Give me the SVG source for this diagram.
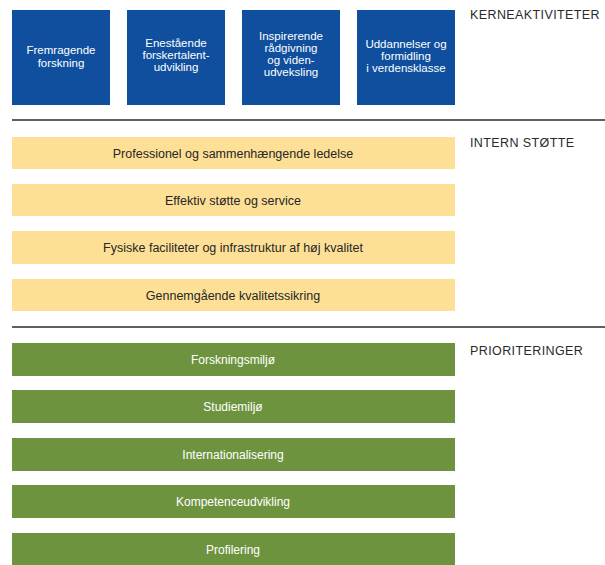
<svg xmlns="http://www.w3.org/2000/svg" width="605" height="565" viewBox="0 0 605 565">
  <style>
    .core rect { fill: #0f4f9e; }
    .core text { fill: #ffffff; font-family: "Liberation Sans", Arial, sans-serif; font-size: 11.5px; text-anchor: middle; }
    .support rect { fill: #fde096; }
    .support text { fill: #262626; font-family: "Liberation Sans", Arial, sans-serif; font-size: 12.5px; text-anchor: middle; }
    .prio rect { fill: #6e933f; }
    .prio text { fill: #ffffff; font-family: "Liberation Sans", Arial, sans-serif; font-size: 12px; text-anchor: middle; }
    .heading { fill: #2a2a2a; font-family: "Liberation Sans", Arial, sans-serif; font-size: 12.5px; letter-spacing: 0.4px; }
    .divider { stroke: #5f5f5f; stroke-width: 2; }
  </style>
  <rect width="605" height="565" fill="#ffffff"/>

  <!-- section headings -->
  <text class="heading" x="470" y="19">KERNEAKTIVITETER</text>
  <text class="heading" x="470" y="147">INTERN STØTTE</text>
  <text class="heading" x="470" y="355">PRIORITERINGER</text>

  <!-- dividers between the three sections -->
  <g id="connectors">
    <line class="divider" x1="12" y1="120" x2="605" y2="120"/>
    <line class="divider" x1="12" y1="327" x2="605" y2="327"/>
  </g>

  <!-- core activities -->
  <g id="core1" class="core">
    <rect x="12" y="10" width="98" height="95"/>
    <text x="61" y="54">Fremragende</text>
    <text x="61" y="67">forskning</text>
  </g>
  <g id="core2" class="core">
    <rect x="127" y="10" width="98" height="95"/>
    <text x="176" y="47">Enestående</text>
    <text x="176" y="59">forskertalent-</text>
    <text x="176" y="71">udvikling</text>
  </g>
  <g id="core3" class="core">
    <rect x="242" y="10" width="98" height="95"/>
    <text x="291" y="40">Inspirerende</text>
    <text x="291" y="52">rådgivning</text>
    <text x="291" y="64">og viden-</text>
    <text x="291" y="76">udveksling</text>
  </g>
  <g id="core4" class="core">
    <rect x="357" y="10" width="98" height="95"/>
    <text x="406" y="48">Uddannelser og</text>
    <text x="406" y="60">formidling</text>
    <text x="406" y="72">i verdensklasse</text>
  </g>

  <!-- internal support -->
  <g id="support1" class="support">
    <rect x="12" y="137" width="443" height="32"/>
    <text x="233" y="157.5">Professionel og sammenhængende ledelse</text>
  </g>
  <g id="support2" class="support">
    <rect x="12" y="184" width="443" height="32"/>
    <text x="233" y="204.5">Effektiv støtte og service</text>
  </g>
  <g id="support3" class="support">
    <rect x="12" y="231" width="443" height="33"/>
    <text x="233" y="251.5">Fysiske faciliteter og infrastruktur af høj kvalitet</text>
  </g>
  <g id="support4" class="support">
    <rect x="12" y="279" width="443" height="32"/>
    <text x="233" y="299.5">Gennemgående kvalitetssikring</text>
  </g>

  <!-- priorities -->
  <g id="prio1" class="prio">
    <rect x="12" y="343" width="443" height="33"/>
    <text x="233" y="363.5">Forskningsmiljø</text>
  </g>
  <g id="prio2" class="prio">
    <rect x="12" y="390" width="443" height="33"/>
    <text x="233" y="410.5">Studiemiljø</text>
  </g>
  <g id="prio3" class="prio">
    <rect x="12" y="438" width="443" height="33"/>
    <text x="233" y="458.5">Internationalisering</text>
  </g>
  <g id="prio4" class="prio">
    <rect x="12" y="485" width="443" height="33"/>
    <text x="233" y="505.5">Kompetenceudvikling</text>
  </g>
  <g id="prio5" class="prio">
    <rect x="12" y="533" width="443" height="33"/>
    <text x="233" y="553.5">Profilering</text>
  </g>
</svg>
